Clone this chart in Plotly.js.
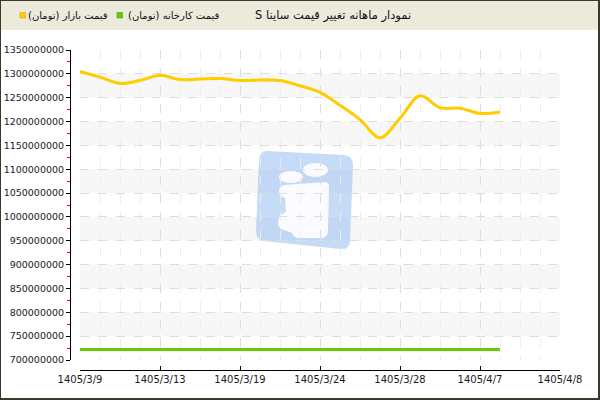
<!DOCTYPE html>
<html>
<head>
<meta charset="utf-8">
<script src="https://cdn.plot.ly/plotly-3.0.1.min.js"></script>
<style>
html,body{margin:0;padding:0;background:#fff;}
#chart{width:600px;height:400px;}
</style>
</head>
<body>
<div id="chart"></div>
<script>
// ---- data ----
var chartTitle = "نمودار ماهانه تغییر قیمت ساینا S";
var seriesNames = ["قیمت بازار (تومان)", "قیمت کارخانه (تومان)"];
var seriesColors = ["#ffcc00", "#66cc00"];
var pointIndex = [0,1,2,3,4,5,6,7,8,9,10,11,12,13,14,15,16,17,18,19,20,21];
var marketPrice = [1305000000,1293000000,1280000000,1286000000,1297000000,1288000000,1289000000,1290000000,1286000000,1287000000,1286000000,1275000000,1261000000,1234000000,1204000000,1166000000,1207000000,1254000000,1229000000,1228000000,1217000000,1220000000];
var factoryPrice = [722000000,722000000,722000000,722000000,722000000,722000000,722000000,722000000,722000000,722000000,722000000,722000000,722000000,722000000,722000000,722000000,722000000,722000000,722000000,722000000,722000000,722000000];
var tickPositions = [0,4,8,12,16,20,24];
var tickLabels = ["1405/3/9","1405/3/13","1405/3/19","1405/3/24","1405/3/28","1405/4/7","1405/4/8"];
var yMin = 700000000, yMax = 1350000000, yStep = 50000000;

// ---- layout helpers (pixel -> paper) ----
var W = 600, H = 400, ML = 70, MR = 40, MT = 50, MB = 30;
var PW = W - ML - MR, PH = H - MT - MB;
function px(p){ return (p - ML) / PW; }
function py(p){ return (H - MB - p) / PH; }
function pathPx(cmds){
  return cmds.map(function(c){
    var s = c[0];
    for (var i = 1; i < c.length; i += 2) s += " " + px(c[i]).toFixed(5) + "," + py(c[i+1]).toFixed(5);
    return s;
  }).join(" ") + " Z";
}

var shapes = [];
// header band
shapes.push({type:"rect", xref:"paper", yref:"paper", x0:px(0), x1:px(600), y0:py(30), y1:py(0),
  fillcolor:"#eceadb", line:{width:0}, layer:"below"});
// alternating bands
for (var v = yMin; v < yMax; v += yStep) {
  var k = Math.round((v - yMin) / yStep);
  if (k % 2 === 1) {
    shapes.push({type:"rect", xref:"x domain", yref:"y", x0:0, x1:1, y0:v, y1:v + yStep,
      fillcolor:"#f7f7f7", line:{width:0}, layer:"below"});
  }
}
// watermark logo
shapes.push({type:"path", xref:"paper", yref:"paper", layer:"below",
  path: pathPx([["M",267,151],["L",344,155],["Q",353,156,353,165],["L",350,242],["Q",349,250,340,249],
                ["L",264,241],["Q",256,240,256,231],["L",259,159],["Q",260,151,267,151]]),
  fillcolor:"rgba(150,190,240,0.55)", line:{width:0}});
shapes.push({type:"circle", xref:"paper", yref:"paper", layer:"below",
  x0:px(279), x1:px(303), y0:py(183), y1:py(171), fillcolor:"rgba(255,255,255,0.9)", line:{width:0}});
shapes.push({type:"circle", xref:"paper", yref:"paper", layer:"below",
  x0:px(303), x1:px(328), y0:py(177), y1:py(163), fillcolor:"rgba(255,255,255,0.9)", line:{width:0}});
shapes.push({type:"path", xref:"paper", yref:"paper", layer:"below",
  path: pathPx([["M",284,185],["L",325,182],["Q",329,182,329,187],["L",328,232],["Q",327,238,320,238],
                ["L",300,238],["Q",293,238,292,233],["L",287,231],["Q",277,229,278,222],["Q",279,214,286,212],
                ["L",285,198],["Q",279,196,279,191],["Q",280,185,284,185]]),
  fillcolor:"rgba(255,255,255,0.9)", line:{width:0}});
// legend squares
shapes.push({type:"rect", xref:"paper", yref:"paper", x0:px(20), x1:px(25.5), y0:py(18), y1:py(12.5),
  fillcolor:seriesColors[0], line:{color:"#d9a800", width:0.6}, layer:"above"});
shapes.push({type:"rect", xref:"paper", yref:"paper", x0:px(117), x1:px(122.5), y0:py(18), y1:py(12.5),
  fillcolor:seriesColors[1], line:{color:"#4f9f00", width:0.6}, layer:"above"});
// outer frame
shapes.push({type:"rect", xref:"paper", yref:"paper", x0:px(0), x1:px(599), y0:py(399), y1:py(0),
  fillcolor:"rgba(0,0,0,0)", line:{color:"#3a3a2c", width:2}, layer:"above"});

var titleFont = {family:"DejaVu Sans", size:11.5, color:"#111"};
var legFont = {family:"DejaVu Sans", size:10, color:"#111"};
var annotations = [
  {xref:"paper", yref:"paper", x:px(413), y:py(15), xanchor:"right", yanchor:"middle", showarrow:false,
   text:"\u202B" + chartTitle + "\u202C", font:titleFont},
  {xref:"paper", yref:"paper", x:px(110), y:py(15), xanchor:"right", yanchor:"middle", showarrow:false,
   text:"\u202B" + seriesNames[0] + "\u202C", font:legFont},
  {xref:"paper", yref:"paper", x:px(221), y:py(15), xanchor:"right", yanchor:"middle", showarrow:false,
   text:"\u202B" + seriesNames[1] + "\u202C", font:legFont}
];

var traces = [
  {x:pointIndex, y:marketPrice, name:seriesNames[0], type:"scatter", mode:"lines",
   line:{color:seriesColors[0], width:3, shape:"spline", smoothing:1}, showlegend:false, cliponaxis:false},
  {x:pointIndex, y:factoryPrice, name:seriesNames[1], type:"scatter", mode:"lines",
   line:{color:seriesColors[1], width:3}, showlegend:false, cliponaxis:false}
];

var tickFont = {family:"DejaVu Sans", size:9.5, color:"#1a1a1a"};
var layout = {
  width:W, height:H,
  margin:{l:ML, r:MR, t:MT, b:MB, pad:0},
  paper_bgcolor:"#ffffff", plot_bgcolor:"rgba(0,0,0,0)",
  showlegend:false,
  xaxis:{domain:[10/PW, 1], anchor:"free", position:0, range:[0,24],
    tickmode:"array", tickvals:tickPositions, ticktext:tickLabels,
    ticks:"inside", ticklen:4, tickcolor:"#000", tickfont:{family:"DejaVu Sans", size:10, color:"#1a1a1a"},
    showline:true, linecolor:"#000", linewidth:1, zeroline:false,
    showgrid:true, gridcolor:"#dddddd", griddash:"dash", gridwidth:1,
    minor:{tickmode:"linear", tick0:0, dtick:1, showgrid:true, gridcolor:"#ededed", griddash:"dash", ticks:""}},
  yaxis:{domain:[10/PH, 1], anchor:"free", position:0, range:[yMin, yMax],
    tickmode:"linear", tick0:yMin, dtick:yStep, tickformat:"d",
    ticks:"outside", ticklen:4, tickcolor:"#000", tickfont:tickFont,
    showline:true, linecolor:"#000", linewidth:1, zeroline:false,
    showgrid:true, gridcolor:"#dddddd", griddash:"dash", gridwidth:1,
    minor:{tickmode:"linear", tick0:yMin + yStep/2, dtick:yStep, ticks:"outside", ticklen:3, tickcolor:"#ff0000", showgrid:false}},
  shapes:shapes,
  annotations:annotations
};

Plotly.newPlot("chart", traces, layout, {staticPlot:true, displayModeBar:false});
</script>
</body>
</html>
